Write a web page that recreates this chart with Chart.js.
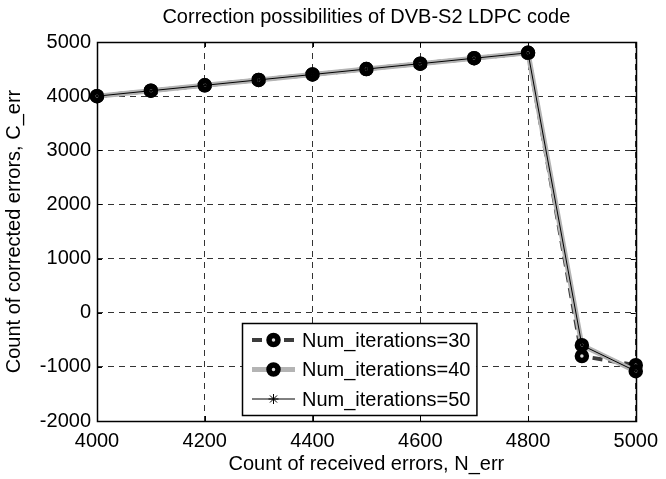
<!DOCTYPE html>
<html>
<head>
<meta charset="utf-8">
<script src="https://cdn.jsdelivr.net/npm/chart.js@4.4.1/dist/chart.umd.min.js"></script>
<style>
html, body { margin: 0; padding: 0; background: #fff; }
#wrap { width: 666px; height: 479px; }
</style>
</head>
<body>
<div id="wrap"><canvas id="c" width="666" height="479"></canvas></div>
<script>
// values
const receivedErrors = [4000, 4100, 4200, 4300, 4400, 4500, 4600, 4700, 4800, 4900, 5000];
const corrected30 = [4000, 4100, 4200, 4300, 4400, 4500, 4600, 4700, 4800, -800, -970];
const corrected40 = [4000, 4100, 4200, 4300, 4400, 4500, 4600, 4700, 4800, -600, -1080];
const corrected50 = [4000, 4100, 4200, 4300, 4400, 4500, 4600, 4700, 4800, -600, -1080];
const xTicks = [4000, 4200, 4400, 4600, 4800, 5000];
const yTicks = [-2000, -1000, 0, 1000, 2000, 3000, 4000, 5000];
const seriesNames = ['Num_iterations=30', 'Num_iterations=40', 'Num_iterations=50'];

const FONT = '"Liberation Sans", Arial, Helvetica, sans-serif';
const FS = 20;

function points(ys) {
    return receivedErrors.map((x, i) => ({ x: x, y: ys[i] }));
}

// box round the axes + inner tick marks (matlab style)
const axesBox = {
    id: 'axesBox',
    beforeDatasetsDraw(chart) {
        const ctx = chart.ctx;
        const a = chart.chartArea;
        const sx = chart.scales.x, sy = chart.scales.y;
        ctx.save();
        ctx.strokeStyle = '#000';
        ctx.lineWidth = 1;
        ctx.beginPath();
        xTicks.forEach(v => {
            const px = Math.round(sx.getPixelForValue(v)) + 0.5;
            ctx.moveTo(px, a.bottom); ctx.lineTo(px, a.bottom - 5);
            ctx.moveTo(px, a.top); ctx.lineTo(px, a.top + 5);
        });
        yTicks.forEach(v => {
            const py = Math.round(sy.getPixelForValue(v)) + 0.5;
            ctx.moveTo(a.left, py); ctx.lineTo(a.left + 5, py);
            ctx.moveTo(a.right, py); ctx.lineTo(a.right - 5, py);
        });
        ctx.stroke();
        ctx.lineWidth = 1.5;
        ctx.strokeRect(Math.round(a.left) + 0.5, Math.round(a.top) + 0.5,
            Math.round(a.right - a.left), Math.round(a.bottom - a.top));
        ctx.restore();
    }
};

// legend box inside the plot, lower middle
const legendBox = {
    id: 'legendBox',
    afterDatasetsDraw(chart) {
        const ctx = chart.ctx;
        const sets = chart.data.datasets;
        const left = 242, top = 323, rowH = 29.5;
        ctx.save();
        ctx.font = FS + 'px ' + FONT;
        let w = 0;
        sets.forEach(d => { w = Math.max(w, ctx.measureText(d.label).width); });
        const right = left + 60 + w + 6;
        const bottom = 415;
        ctx.fillStyle = '#fff';
        ctx.fillRect(left, top, right - left, bottom - top);
        ctx.strokeStyle = '#000';
        ctx.lineWidth = 1.5;
        ctx.strokeRect(left + 0.5, top + 0.5, right - left, bottom - top);

        sets.forEach((d, i) => {
            const y = top + 17 + i * rowH;
            ctx.save();
            ctx.strokeStyle = d.borderColor;
            ctx.lineWidth = d.borderWidth;
            ctx.setLineDash(d.borderDash || []);
            ctx.beginPath();
            ctx.moveTo(left + 10, y);
            ctx.lineTo(left + 53, y);
            ctx.stroke();
            ctx.setLineDash([]);
            ctx.fillStyle = d.pointBackgroundColor;
            ctx.strokeStyle = d.pointBorderColor;
            ctx.lineWidth = d.pointBorderWidth;
            Chart.helpers.drawPoint(ctx, {
                pointStyle: d.pointStyle, radius: d.pointRadius,
                borderWidth: d.pointBorderWidth, rotation: 0
            }, left + 31.5, y);
            ctx.restore();
            ctx.fillStyle = '#000';
            ctx.textBaseline = 'middle';
            ctx.textAlign = 'left';
            ctx.fillText(d.label, left + 60, y + 1);
        });
        ctx.restore();
    }
};

new Chart(document.getElementById('c'), {
    type: 'line',
    data: {
        datasets: [
            {
                label: seriesNames[0],
                data: points(corrected30),
                borderColor: '#3c3c3c',
                borderWidth: 4,
                borderDash: [10, 6],
                pointStyle: 'circle',
                pointRadius: 4.5,
                pointBorderWidth: 5.5,
                pointBorderColor: '#000',
                pointBackgroundColor: '#ddd',
                clip: false,
                order: 3
            },
            {
                label: seriesNames[1],
                data: points(corrected40),
                borderColor: '#b4b4b4',
                borderWidth: 5,
                pointStyle: 'circle',
                pointRadius: 4.5,
                pointBorderWidth: 5.5,
                pointBorderColor: '#000',
                pointBackgroundColor: '#ddd',
                clip: false,
                order: 2
            },
            {
                label: seriesNames[2],
                data: points(corrected50),
                borderColor: '#000',
                borderWidth: 1,
                pointStyle: 'star',
                pointRadius: 5,
                pointBorderWidth: 1,
                pointBorderColor: '#000',
                pointBackgroundColor: '#000',
                clip: false,
                order: 1
            }
        ]
    },
    options: {
        responsive: false,
        animation: false,
        devicePixelRatio: 1,
        layout: { padding: { left: 0, right: 23, top: 0, bottom: 0 } },
        plugins: {
            legend: { display: false },
            tooltip: { enabled: false },
            title: {
                display: true,
                fullSize: false,
                text: 'Correction possibilities of DVB-S2 LDPC code',
                color: '#000',
                font: { family: FONT, size: FS, weight: 'normal' },
                padding: { top: 5, bottom: 13 }
            }
        },
        scales: {
            x: {
                type: 'linear',
                min: 4000,
                max: 5000,
                afterBuildTicks: s => { s.ticks = xTicks.map(v => ({ value: v })); },
                afterFit: s => { s.height = 58; },
                grid: { color: '#333', lineWidth: 1, drawTicks: false },
                border: { display: false, dash: [6, 5] },
                ticks: {
                    color: '#000',
                    padding: 8,
                    maxRotation: 0,
                    font: { family: FONT, size: FS },
                    callback: v => String(v)
                },
                title: {
                    display: true,
                    text: 'Count of received errors, N_err',
                    color: '#000',
                    font: { family: FONT, size: FS },
                    padding: { top: 0, bottom: 3 }
                }
            },
            y: {
                type: 'linear',
                min: -2000,
                max: 5000,
                afterBuildTicks: s => { s.ticks = yTicks.map(v => ({ value: v })); },
                afterFit: s => { s.width = 97; },
                grid: { color: '#333', lineWidth: 1, drawTicks: false },
                border: { display: false, dash: [6, 5] },
                ticks: {
                    color: '#000',
                    padding: 6,
                    font: { family: FONT, size: FS },
                    callback: v => String(v)
                },
                title: {
                    display: true,
                    text: 'Count of corrected errors, C_err',
                    color: '#000',
                    font: { family: FONT, size: FS },
                    padding: { top: 2, bottom: 0 }
                }
            }
        }
    },
    plugins: [axesBox, legendBox]
});
</script>
</body>
</html>
